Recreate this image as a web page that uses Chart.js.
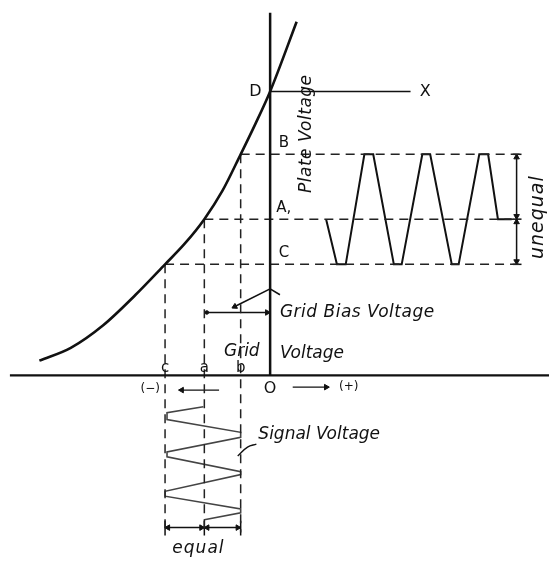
<!DOCTYPE html>
<html>
<head>
<meta charset="utf-8">
<script src="https://cdn.jsdelivr.net/npm/chart.js"></script>
<style>
  html, body { margin: 0; padding: 0; background: #fff; }
  #wrap { width: 554px; height: 567px; position: relative; }
</style>
</head>
<body>
<div id="wrap"><canvas id="chart"></canvas></div>
<script>
// grid voltage (x) and plate voltage (y), origin O where the axes cross
const curveGrid = [-23.5, -20.3, -17.0, -13.7, -10.7, -8.7, -6.7, -4.85, -3.0, -1.5, 0, 2.7];
const curvePlate = [1.5, 2.8, 5.1, 8.2, 11.3, 13.4, 15.9, 18.8, 22.5, 25.6, 28.9, 36.0];

const gridNames = ["b", "a", "c"];
const gridValues = [-3.0, -6.7, -10.7];
const levelNames = ["B", "A,", "C"];
const levelValues = [22.5, 15.9, 11.3];
const pointD = 28.9;

const plateWaveX = [5.7, 6.8, 7.7, 9.6, 10.5, 12.6, 13.4, 15.5, 16.3, 18.5, 19.2, 21.3, 22.2, 23.2, 24.6];
const plateWaveY = [15.9, 11.3, 11.3, 22.5, 22.5, 11.3, 11.3, 22.5, 22.5, 11.3, 11.3, 22.5, 22.5, 15.9, 15.9];

const signalWaveX = [-6.8, -10.5, -10.5, -3.0, -3.0, -10.5, -10.5, -3.0, -3.0, -10.7, -10.7, -3.0, -3.0, -6.7];
const signalWaveY = [-3.2, -3.8, -4.5, -5.8, -6.3, -7.8, -8.3, -9.8, -10.1, -11.8, -12.3, -13.6, -14.0, -14.7];

const xMin = -27, xMax = 28.4, yMin = -19, yMax = 37.7;
const dashRight = 25.4, dashBottom = -16.0;
const ink = "#111";

function pts(xs, ys) { return xs.map((x, i) => ({ x: x, y: ys[i] })); }
function seg(x1, y1, x2, y2) { return [{ x: x1, y: y1 }, { x: x2, y: y2 }]; }

function line(data, width, dash, color) {
  return {
    data: data, showLine: true, fill: false, pointRadius: 0,
    borderColor: color || ink, borderWidth: width, borderDash: dash || [],
    tension: 0, borderCapStyle: "butt"
  };
}

const datasets = [];

// faint grey patch of the scan behind the signal wave
datasets.push({
  data: [{ x: -11.0, y: -2.3 }, { x: -2.5, y: -2.3 }, { x: -2.5, y: -14.8 }, { x: -11.0, y: -14.8 }, { x: -11.0, y: -2.3 }],
  showLine: true, pointRadius: 0, borderWidth: 0, borderColor: "rgba(0,0,0,0)",
  fill: true, backgroundColor: "rgba(0,0,0,0.05)"
});

// axes
datasets.push(line(seg(-26.5, 0, xMax, 0), 2.2));
datasets.push(line(seg(0, 0, 0, 36.9), 2.5));

// characteristic curve
datasets.push(Object.assign(line(pts(curveGrid, curvePlate), 2.6), { cubicInterpolationMode: "monotone", tension: 0.4 }));

// D - X
datasets.push(line(seg(0, pointD, 14.3, pointD), 1.6));

// dashed projections
gridValues.forEach((g, i) => {
  datasets.push(line(seg(g, levelValues[i], dashRight, levelValues[i]), 1.5, [9, 6], "#222"));
  datasets.push(line(seg(g, levelValues[i], g, dashBottom), 1.5, [9, 6], "#222"));
});

// plate voltage wave
datasets.push(line(pts(plateWaveX, plateWaveY), 2.0));

// signal wave
datasets.push(line(pts(signalWaveX, signalWaveY), 1.6, [], "#444"));

// unequal dimension
datasets.push(line(seg(25.1, levelValues[0], 25.1, levelValues[2]), 1.5));
levelValues.forEach(v => datasets.push(line(seg(24.7, v, 25.6, v), 1.5)));

// equal dimension
datasets.push(line(seg(gridValues[2], -15.5, gridValues[0], -15.5), 1.5));
gridValues.forEach(g => datasets.push(line(seg(g, -14.8, g, -16.3), 1.5)));

// grid bias bracket and leader
datasets.push(line(seg(gridValues[1], 6.4, 0, 6.4), 1.5));
datasets.push(line([{ x: -3.8, y: 6.9 }, { x: 0, y: 8.8 }, { x: 1.0, y: 8.2 }], 1.6));

// signal voltage leader
datasets.push(Object.assign(line([{ x: -3.3, y: -8.2 }, { x: -2.3, y: -7.3 }, { x: -1.4, y: -7.0 }], 1.4), { tension: 0.4 }));

// direction arrows under the axis
datasets.push(line(seg(-5.2, -1.5, -9.3, -1.5), 1.4));
datasets.push(line(seg(2.3, -1.2, 6.0, -1.2), 1.4));

// arrow heads
const heads = [
  { x: -0.3, y: 6.4, r: 90 }, { x: -3.6, y: 7.0, r: 243 },
  { x: 25.1, y: 22.2, r: 0 }, { x: 25.1, y: 16.2, r: 180 }, { x: 25.1, y: 15.6, r: 0 }, { x: 25.1, y: 11.6, r: 180 },
  { x: -10.4, y: -15.5, r: 270 }, { x: -7.0, y: -15.5, r: 90 }, { x: -6.4, y: -15.5, r: 270 }, { x: -3.3, y: -15.5, r: 90 },
  { x: -9.0, y: -1.5, r: 270 }, { x: 5.7, y: -1.2, r: 90 }
];
datasets.push({
  data: heads.map(h => ({ x: h.x, y: h.y })), showLine: false,
  pointStyle: "triangle", pointRadius: 3.2, pointRotation: heads.map(h => h.r),
  pointBackgroundColor: ink, pointBorderColor: ink, pointBorderWidth: 1
});
datasets.push({
  data: [{ x: gridValues[1] + 0.25, y: 6.4 }], showLine: false,
  pointStyle: "circle", pointRadius: 1.8, pointBackgroundColor: ink, pointBorderColor: ink
});

const hand = "italic 17px 'DejaVu Sans'";
const plain = "15px 'DejaVu Sans'";
const labels = [
  { t: "D", x: -1.5, y: pointD, f: "16px 'DejaVu Sans'", a: "center" },
  { t: "X", x: 15.8, y: pointD, f: "16px 'DejaVu Sans'", a: "center" },
  { t: "Plate Voltage", x: 3.7, y: 24.6, f: hand, a: "center", rot: -90, ls: "0.5px" },
  { t: "unequal", x: 27.3, y: 16.1, f: "italic 19px 'DejaVu Sans'", a: "center", rot: -90, ls: "1px" },
  { t: "Grid Bias Voltage", x: 1.0, y: 6.4, f: hand, a: "left", ls: "0.5px" },
  { t: "Grid", x: -4.7, y: 2.4, f: hand, a: "left" },
  { t: "Voltage", x: 1.0, y: 2.2, f: hand, a: "left" },
  { t: "Signal Voltage", x: -1.2, y: -6.0, f: hand, a: "left" },
  { t: "equal", x: -7.3, y: -17.6, f: hand, a: "center", ls: "1px" },
  { t: "(−)", x: -12.2, y: -1.4, f: "12px 'DejaVu Sans'", a: "center" },
  { t: "O", x: 0, y: -1.4, f: "16px 'DejaVu Sans'", a: "center" },
  { t: "(+)", x: 8.0, y: -1.2, f: "12px 'DejaVu Sans'", a: "center" }
];
levelNames.forEach((n, i) => labels.push({ t: n, x: 1.4, y: levelValues[i] + 1.1, f: plain, a: "center" }));
gridNames.forEach((n, i) => labels.push({ t: n, x: gridValues[i], y: 0.7, f: plain, a: "center" }));

const textPlugin = {
  id: "diagramText",
  afterDatasetsDraw(chart) {
    const ctx = chart.ctx;
    const sx = chart.scales.x, sy = chart.scales.y;
    labels.forEach(l => {
      ctx.save();
      ctx.translate(sx.getPixelForValue(l.x), sy.getPixelForValue(l.y));
      if (l.rot) ctx.rotate(l.rot * Math.PI / 180);
      ctx.font = l.f;
      ctx.letterSpacing = l.ls || "0px";
      ctx.fillStyle = ink;
      ctx.textAlign = l.a;
      ctx.textBaseline = "middle";
      ctx.fillText(l.t, 0, 0);
      ctx.restore();
    });
  }
};

new Chart(document.getElementById("chart"), {
  type: "scatter",
  data: { datasets: datasets },
  options: {
    responsive: true,
    maintainAspectRatio: false,
    animation: false,
    layout: { padding: 0 },
    plugins: { legend: { display: false }, tooltip: { enabled: false } },
    scales: {
      x: { type: "linear", min: xMin, max: xMax, display: false },
      y: { type: "linear", min: yMin, max: yMax, display: false }
    }
  },
  plugins: [textPlugin]
});
</script>
</body>
</html>
